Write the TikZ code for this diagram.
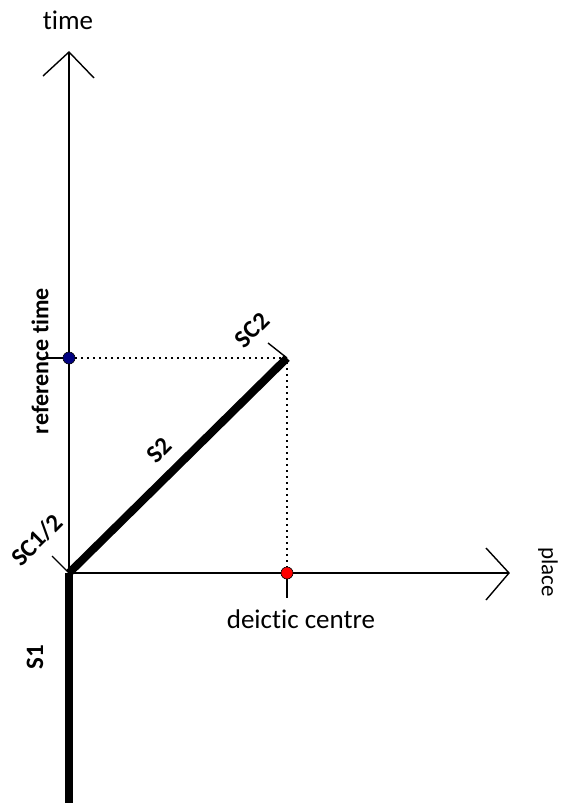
\documentclass[tikz,border=0pt]{standalone}
\usepackage{fontspec}
\setmainfont{Carlito}[Ligatures=CommonOff]
\begin{document}
\begin{tikzpicture}[x=1pt,y=-1pt,
  thin axis/.style={line width=1.4pt},
  thickseg/.style={line width=8pt},
  dotline/.style={line width=1.4pt, dash pattern=on 1.5pt off 4.5pt},
  lbl/.style={font=\fontsize{27}{30}\selectfont, inner sep=0pt},
  blbl/.style={font=\fontsize{25}{28}\selectfont\bfseries, inner sep=0pt}]
\useasboundingbox (0,0) rectangle (560,803);
\coordinate (O) at (69,573);
\coordinate (T) at (69,52);
\coordinate (P) at (509,573);
\coordinate (RT) at (69,358);
\coordinate (RTl) at (43,358);
\coordinate (SC2) at (287,358);
\coordinate (DC) at (287,573);
\coordinate (DCb) at (287,598);
\coordinate (B) at (69,803);
\coordinate (SC2t) at (268,343);
\coordinate (SC1t) at (52,556);
% axes
\draw[thin axis] (O) -- (T);
\draw[thin axis] (43,76) -- (T) -- (94,78);
\draw[thin axis] (O) -- (P);
\draw[thin axis] (486,548) -- (P) -- (486,600);
% ticks
\draw[thin axis] (RTl) -- (RT);
\draw[thin axis] (DC) -- (DCb);
\draw[thin axis] (SC2t) -- (SC2);
\draw[thin axis] (SC1t) -- (O);
% dotted
\draw[dotline] (RT) -- (SC2) -- (DC);
% thick segments
\draw[thickseg] (O) -- (SC2);
\draw[thickseg] (O) -- (B);
% dots
\fill[fill={rgb,255:red,0;green,0;blue,128}, draw=black, line width=0.6pt] (RT) circle (6);
\fill[fill=red, draw=black, line width=0.6pt] (DC) circle (6);
% labels
\node[lbl] (time) at (68,20) {time};
\node[font=\fontsize{23}{26}\selectfont, inner sep=0pt, rotate=-90] (place) at (548,572) {place};
\node[lbl] (dc) at (301,619) {deictic centre};
\node[blbl, font=\fontsize{24}{28}\selectfont\bfseries, rotate=90] (reft) at (40,361) {reference time};
\node[blbl, rotate=90] (s1) at (35,657) {S1};
\node[blbl, rotate=45] (s2) at (159,450) {S2};
\node[blbl, rotate=45] (sc2) at (252,330) {SC2};
\node[blbl, rotate=45] (sc12) at (37,540) {SC1/2};
\end{tikzpicture}
\end{document}
